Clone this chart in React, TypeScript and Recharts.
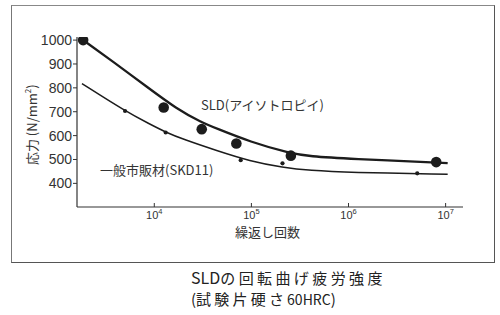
import { ComposedChart, Line, Scatter, XAxis, YAxis } from 'recharts'

// fatigue test points (cycles, stress N/mm2)
const sldCycles = [1850, 12500, 30800, 70000, 255000, 8000000]
const sldStress = [1000, 718, 627, 567, 516, 489]
const skdCycles = [5000, 13100, 77600, 209000, 5100000]
const skdStress = [703, 613, 497, 484, 442]

// fitted S-N curves as drawn
const sldCurveCycles = [1850, 3790, 8360, 17000, 30800, 43800, 96600, 249000, 400000, 1000000, 10500000]
const sldCurveStress = [1000, 909, 805, 712, 655, 630, 574, 526, 513, 503, 485]
const skdCurveCycles = [1800, 5000, 9000, 13000, 20000, 44000, 96000, 213000, 400000, 1000000, 10500000]
const skdCurveStress = [818, 703, 648, 615, 584, 537, 493, 466, 454, 446, 438]

const xTicks = [1e4, 1e5, 1e6, 1e7]
const yTicks = [400, 500, 600, 700, 800, 900, 1000]

const zip = (n: number[], s: number[]) => n.map((v, i) => ({ n: v, s: s[i] }))

const sldPts = zip(sldCycles, sldStress)
const skdPts = zip(skdCycles, skdStress)
const sldCurve = zip(sldCurveCycles, sldCurveStress)
const skdCurve = zip(skdCurveCycles, skdCurveStress)

const INK = '#1c1c1c'
const TEXT = '#333'
const JP = '"Noto Sans CJK JP", "Noto Sans", sans-serif'
const LATIN = '"Liberation Sans", Arial, sans-serif'

// eslint-disable-next-line @typescript-eslint/no-explicit-any
function PowerTick({ x, y, payload }: any) {
  const exp = Math.round(Math.log10(payload.value))
  return (
    <text x={x} y={y} textAnchor="middle" fontSize={11} fill={TEXT} fontFamily={LATIN}>
      <tspan>10</tspan>
      <tspan dy={-5} fontSize={7.5}>{exp}</tspan>
    </text>
  )
}

// eslint-disable-next-line @typescript-eslint/no-explicit-any
const BigDot = (p: any) => <circle cx={p.cx} cy={p.cy} r={5.3} fill={INK} />
// eslint-disable-next-line @typescript-eslint/no-explicit-any
const SmallDot = (p: any) => <circle cx={p.cx} cy={p.cy} r={2.1} fill={INK} />

const abs = (left: number, top: number, extra: React.CSSProperties = {}): React.CSSProperties => ({
  position: 'absolute', left, top, whiteSpace: 'nowrap', fontFamily: JP, color: TEXT, ...extra,
})

export default function App() {
  return (
    <div style={{ position: 'absolute', left: 0, top: 0, width: 500, height: 315, background: '#fff' }}>
      <div style={{
        position: 'absolute', left: 11, top: 5, width: 482, height: 256,
        borderTop: '1px solid #888', borderLeft: '1px solid #777',
        borderRight: '1.5px solid #555', borderBottom: '1.5px solid #555',
      }} />
      <ComposedChart width={500} height={315} margin={{ top: 37, right: 37, bottom: 78, left: 17 }}>
        <XAxis
          dataKey="n"
          type="number"
          scale="log"
          domain={[1600, 15100000]}
          allowDataOverflow
          ticks={xTicks}
          height={30}
          tick={<PowerTick />}
          tickSize={-4}
          tickMargin={16}
          axisLine={{ stroke: '#333', strokeWidth: 1.2 }}
          tickLine={{ stroke: '#333' }}
        />
        <YAxis
          type="number"
          domain={[301, 1013]}
          allowDataOverflow
          ticks={yTicks}
          width={60}
          tickSize={4}
          tickMargin={1}
          tick={{ fontSize: 14, fill: TEXT, fontFamily: LATIN }}
          axisLine={{ stroke: '#333', strokeWidth: 1.2 }}
          tickLine={{ stroke: '#333' }}
        />
        <Line data={skdCurve} dataKey="s" type="basis" stroke={INK} strokeWidth={1.5} dot={false} isAnimationActive={false} />
        <Line data={sldCurve} dataKey="s" type="basis" stroke={INK} strokeWidth={2.3} dot={false} isAnimationActive={false} />
        <Scatter data={skdPts} dataKey="s" shape={SmallDot} isAnimationActive={false} />
        <Scatter data={sldPts} dataKey="s" shape={BigDot} isAnimationActive={false} />
      </ComposedChart>

      <div style={abs(30 - 50, 123 - 8, { width: 100, textAlign: 'center', fontSize: 13, lineHeight: '16px', transform: 'rotate(-90deg)' })}>
        応力 (N/mm<sup style={{ fontSize: 8 }}>2</sup>)
      </div>
      <div style={abs(235, 224, { fontSize: 13, lineHeight: '16px' })}>繰返し回数</div>
      <div style={abs(201, 97, { fontSize: 13, lineHeight: '16px' })}>SLD(アイソトロピイ)</div>
      <div style={abs(100, 162, { fontSize: 13, lineHeight: '16px' })}>一般市販材(SKD11)</div>
      <div style={abs(191, 270, { fontSize: 15, lineHeight: '15px', color: '#222' })}>
        <span style={{ fontSize: 16 }}>SLD</span><span style={{ letterSpacing: 3.4 }}>の回転曲げ疲労強度</span>
      </div>
      <div style={abs(191, 291, { fontSize: 15, lineHeight: '15px', color: '#222' })}>
        (<span style={{ letterSpacing: 3.2 }}>試験片硬さ</span><span style={{ fontSize: 14 }}>60HRC</span>)
      </div>
    </div>
  )
}
